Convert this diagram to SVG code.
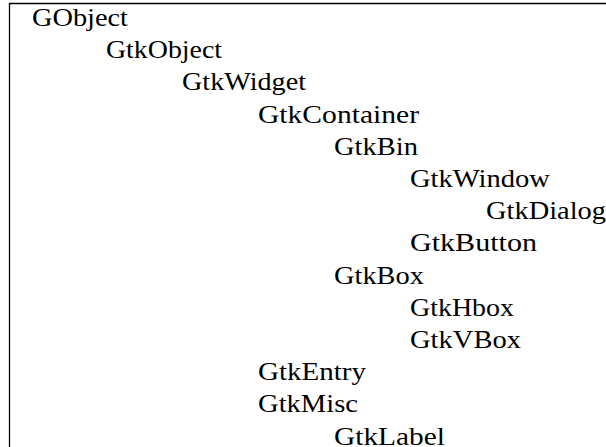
<svg xmlns="http://www.w3.org/2000/svg" width="606" height="447" viewBox="0 0 606 447">
<style>
text{font-family:"Liberation Serif","DejaVu Serif",serif;font-size:25px;fill:#000}
.frame{stroke:#000;stroke-width:1.3;fill:none}
</style>
<rect x="0" y="0" width="606" height="447" fill="#fff"/>
<path class="frame" d="M9.5,447 V3.5 H606"/>
<g id="connectors"/>
<g id="GObject"><text x="32" y="26" textLength="96" lengthAdjust="spacingAndGlyphs">GObject</text></g>
<g id="GtkObject"><text x="106" y="58.2" textLength="116" lengthAdjust="spacingAndGlyphs">GtkObject</text></g>
<g id="GtkWidget"><text x="182" y="90.4" textLength="124" lengthAdjust="spacingAndGlyphs">GtkWidget</text></g>
<g id="GtkContainer"><text x="258" y="122.6" textLength="161" lengthAdjust="spacingAndGlyphs">GtkContainer</text></g>
<g id="GtkBin"><text x="334" y="154.8" textLength="84" lengthAdjust="spacingAndGlyphs">GtkBin</text></g>
<g id="GtkWindow"><text x="410" y="187" textLength="140" lengthAdjust="spacingAndGlyphs">GtkWindow</text></g>
<g id="GtkDialog"><text x="486" y="219.2" textLength="120" lengthAdjust="spacingAndGlyphs">GtkDialog</text></g>
<g id="GtkButton"><text x="410" y="251.4" textLength="127" lengthAdjust="spacingAndGlyphs">GtkButton</text></g>
<g id="GtkBox"><text x="334" y="283.6" textLength="90" lengthAdjust="spacingAndGlyphs">GtkBox</text></g>
<g id="GtkHbox"><text x="410" y="315.8" textLength="104" lengthAdjust="spacingAndGlyphs">GtkHbox</text></g>
<g id="GtkVBox"><text x="410" y="348" textLength="111" lengthAdjust="spacingAndGlyphs">GtkVBox</text></g>
<g id="GtkEntry"><text x="258" y="380.2" textLength="108" lengthAdjust="spacingAndGlyphs">GtkEntry</text></g>
<g id="GtkMisc"><text x="258" y="412.4" textLength="100" lengthAdjust="spacingAndGlyphs">GtkMisc</text></g>
<g id="GtkLabel"><text x="334" y="444.6" textLength="111" lengthAdjust="spacingAndGlyphs">GtkLabel</text></g>
</svg>
